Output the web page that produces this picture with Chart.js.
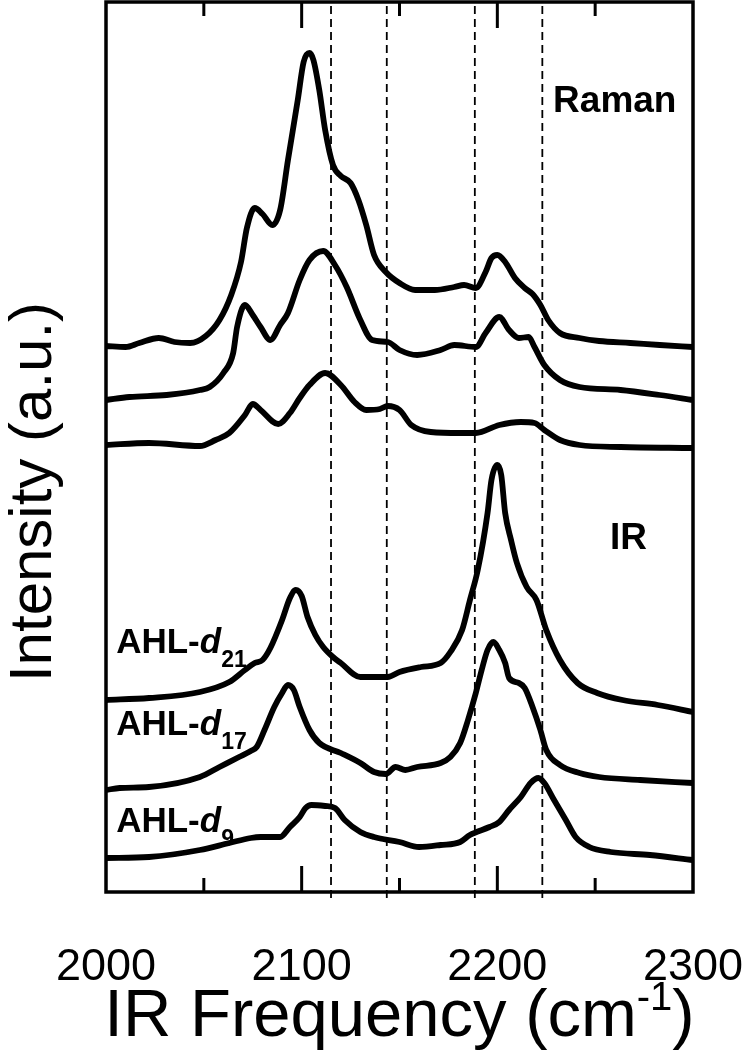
<!DOCTYPE html>
<html>
<head>
<meta charset="utf-8">
<script src="https://cdn.jsdelivr.net/npm/chart.js"></script>
<style>
  html, body { margin: 0; padding: 0; background: #fff; }
</style>
</head>
<body>
<canvas id="chart" width="751" height="1050"></canvas>
<script>
// wavenumber (cm-1) / intensity (a.u., stacked with offsets as in the figure)
const raman1X = [2000,2010,2017,2027,2035,2043,2051,2058,2064,2069,2072,2076,2080,2085,2089,2093,2098,2101,2104,2106,2109,2112,2116,2120,2125,2129,2133,2137,2143,2150,2158,2168,2178,2183,2189,2194,2197,2200,2204,2209,2214,2218,2222,2226,2232,2242,2252,2268,2283,2300];
const raman1Y = [54.6,54.5,54.9,55.4,55.0,54.9,55.6,57.2,59.7,63.0,66.4,68.4,67.8,66.7,68.2,73.2,79.2,83.0,83.9,83.2,80.2,76.2,72.7,71.6,70.9,69.2,66.7,63.7,62.0,60.9,60.2,60.2,60.5,60.7,60.4,62.0,63.4,63.7,63.0,61.4,60.4,59.8,58.7,57.2,55.9,55.4,55.1,54.9,54.7,54.5];

const raman2X = [2000,2012,2031,2048,2053,2060,2065,2067,2071,2075,2079,2084,2089,2093,2099,2104,2111,2117,2123,2130,2136,2144,2150,2159,2171,2178,2189,2194,2201,2206,2211,2216,2219,2224,2232,2242,2263,2283,2300];
const raman2Y = [49.2,49.5,49.7,50.2,50.5,51.9,53.9,56.5,58.7,57.7,56.5,55.2,56.7,57.9,61.2,63.2,64.1,62.7,60.5,57.2,55.2,55.0,54.2,53.7,54.2,54.7,54.5,55.9,57.5,56.2,55.4,55.5,54.5,52.7,51.2,50.5,50.2,49.7,49.2];

const raman3X = [2000,2022,2048,2056,2063,2071,2075,2079,2088,2094,2099,2104,2112,2120,2127,2133,2140,2144,2150,2156,2166,2181,2189,2201,2212,2219,2224,2232,2242,2263,2300];
const raman3Y = [44.7,44.9,44.6,45.2,45.9,47.7,48.8,48.2,46.8,47.9,49.4,50.7,51.9,50.7,49.0,48.2,48.3,48.6,48.2,46.7,46.0,45.9,45.9,46.7,47.0,46.9,46.2,45.2,44.7,44.5,44.4];

const irD21X = [2000,2022,2048,2063,2071,2076,2080,2084,2090,2094,2097,2100,2103,2107,2111,2116,2120,2130,2144,2150,2161,2171,2176,2182,2186,2190,2195,2197,2200,2202,2204,2207,2210,2215,2220,2225,2232,2241,2251,2264,2282,2300];
const irD21Y = [19.2,19.4,20.0,21.0,22.2,22.9,23.2,24.4,27.2,29.4,30.2,29.6,27.5,25.7,24.5,23.5,22.9,21.5,21.5,22.0,22.5,22.9,24.0,26.2,29.2,32.2,37.9,41.2,42.7,41.7,37.9,35.2,32.9,30.5,29.2,26.2,23.2,20.9,19.9,19.2,18.7,18.0];

const irD17X = [2000,2007,2022,2048,2058,2068,2074,2077,2081,2086,2090,2093,2096,2099,2104,2109,2120,2130,2137,2143,2148,2153,2159,2171,2176,2181,2185,2189,2192,2195,2198,2201,2204,2206,2211,2214,2218,2222,2225,2232,2242,2252,2273,2300];
const irD17Y = [10.2,10.4,10.5,11.5,12.5,13.5,14.1,14.5,16.2,18.5,19.9,20.7,20.2,18.5,16.2,14.9,13.9,12.9,12.0,11.8,12.5,12.2,12.5,12.9,13.5,14.9,17.2,19.9,22.2,24.2,25.0,24.2,22.9,21.4,20.9,20.4,18.5,16.2,14.2,12.7,11.9,11.5,11.2,10.9];

const irD9X = [2000,2022,2048,2063,2074,2079,2089,2094,2099,2102,2105,2112,2117,2122,2130,2137,2150,2160,2171,2181,2186,2196,2201,2206,2212,2217,2221,2224,2229,2235,2240,2247,2258,2278,2300];
const irD9Y = [3.4,3.5,4.2,4.9,5.4,5.5,5.5,6.5,7.5,8.4,8.7,8.6,8.4,7.2,6.0,5.5,5.0,4.5,4.7,5.0,5.7,6.5,7.0,8.2,9.5,10.9,11.4,10.9,9.2,7.2,5.5,4.5,4.0,3.7,3.2];

// dashed reference lines (cm-1)
const markerLines = [2115, 2143.5, 2188.5, 2223];

const xTicksMajor = [2000, 2100, 2200, 2300];

const FONT = '"Liberation Sans", Arial, sans-serif';

function pts(xs, ys) {
  return xs.map((x, i) => ({ x: x, y: ys[i] }));
}

const spectra = [
  [raman1X, raman1Y], [raman2X, raman2Y], [raman3X, raman3Y],
  [irD21X, irD21Y], [irD17X, irD17Y], [irD9X, irD9Y]
];

let datasets = spectra.map(s => ({
  data: pts(s[0], s[1]),
  borderColor: '#000',
  borderWidth: 5.8,
  pointRadius: 0,
  fill: false,
  cubicInterpolationMode: 'monotone',
  borderCapStyle: 'round',
  borderJoinStyle: 'round'
}));

markerLines.forEach(v => {
  datasets.push({
    data: [{ x: v, y: -0.6 }, { x: v, y: 89 }],
    borderColor: '#000',
    borderWidth: 1.8,
    borderDash: [8, 5],
    pointRadius: 0,
    fill: false,
    clip: false
  });
});

// frame, inward ticks and text
const decor = {
  id: 'decor',
  afterDatasetsDraw(chart) {
    const ctx = chart.ctx;
    const a = chart.chartArea;
    const xs = chart.scales.x;
    ctx.save();
    ctx.strokeStyle = '#000';
    ctx.lineWidth = 3.5;
    ctx.strokeRect(a.left, a.top, a.right - a.left, a.bottom - a.top);
    ctx.lineWidth = 3;
    for (let v = 2050; v < 2300; v += 50) {
      const px = xs.getPixelForValue(v);
      const len = xTicksMajor.includes(v) ? 26 : 14;
      ctx.beginPath();
      ctx.moveTo(px, a.bottom); ctx.lineTo(px, a.bottom - len);
      ctx.moveTo(px, a.top); ctx.lineTo(px, a.top + len);
      ctx.stroke();
    }
    ctx.restore();
  },
  afterDraw(chart) {
    const ctx = chart.ctx;
    const a = chart.chartArea;
    const xs = chart.scales.x, ys = chart.scales.y;
    ctx.save();
    ctx.fillStyle = '#000';
    ctx.textBaseline = 'alphabetic';

    // panel labels
    ctx.font = 'bold 37px ' + FONT;
    ctx.textAlign = 'left';
    ctx.fillText('Raman', xs.getPixelForValue(2228.5), ys.getPixelForValue(78.0));
    ctx.fillText('IR', xs.getPixelForValue(2257.6), ys.getPixelForValue(34.3));

    // sample labels
    const samples = [['21', 23.9], ['17', 15.7], ['9', 6.0]];
    samples.forEach(s => {
      let x = xs.getPixelForValue(2005.2);
      const y = ys.getPixelForValue(s[1]);
      ctx.font = 'bold 35px ' + FONT;
      ctx.fillText('AHL-', x, y);
      x += ctx.measureText('AHL-').width;
      ctx.font = 'italic bold 35px ' + FONT;
      ctx.fillText('d', x, y);
      x += ctx.measureText('d').width;
      ctx.font = 'bold 23px ' + FONT;
      ctx.fillText(s[0], x, y + 14);
    });

    // y title
    ctx.save();
    ctx.translate(a.left - 55, ys.getPixelForValue(40));
    ctx.rotate(-Math.PI / 2);
    ctx.textAlign = 'center';
    ctx.font = '60px ' + FONT;
    ctx.fillText('Intensity (a.u.)', 0, 0);
    ctx.restore();

    // x title with superscript
    const main = 'IR Frequency (cm', sup = '-1', tail = ')';
    const big = '67px ' + FONT, small = '40px ' + FONT;
    ctx.font = big;
    const w1 = ctx.measureText(main).width, w3 = ctx.measureText(tail).width;
    ctx.font = small;
    const w2 = ctx.measureText(sup).width;
    let tx = (a.left + a.right) / 2 - (w1 + w2 + w3) / 2;
    const ty = a.bottom + 144;
    ctx.textAlign = 'left';
    ctx.font = big;
    ctx.fillText(main, tx, ty);
    tx += w1;
    ctx.font = small;
    ctx.fillText(sup, tx, ty - 26);
    tx += w2;
    ctx.font = big;
    ctx.fillText(tail, tx, ty);
    ctx.restore();
  }
};

new Chart(document.getElementById('chart'), {
  type: 'line',
  data: { datasets: datasets },
  options: {
    responsive: false,
    animation: false,
    devicePixelRatio: 1,
    layout: { padding: { left: 0, right: 58, top: 2, bottom: 0 } },
    plugins: { legend: { display: false }, tooltip: { enabled: false } },
    scales: {
      x: {
        type: 'linear',
        min: 2000,
        max: 2300,
        grid: { display: false },
        border: { display: false },
        ticks: {
          stepSize: 50,
          autoSkip: false,
          maxRotation: 0,
          padding: 41,
          color: '#000',
          font: { size: 45, family: FONT },
          callback: v => xTicksMajor.includes(v) ? String(v) : ''
        },
        afterFit: s => { s.height = 158; s.paddingLeft = 0; s.paddingRight = 0; }
      },
      y: {
        type: 'linear',
        min: 0,
        max: 89,
        grid: { display: false },
        border: { display: false },
        ticks: { display: false },
        afterFit: s => { s.width = 106; }
      }
    }
  },
  plugins: [decor]
});
</script>
</body>
</html>
